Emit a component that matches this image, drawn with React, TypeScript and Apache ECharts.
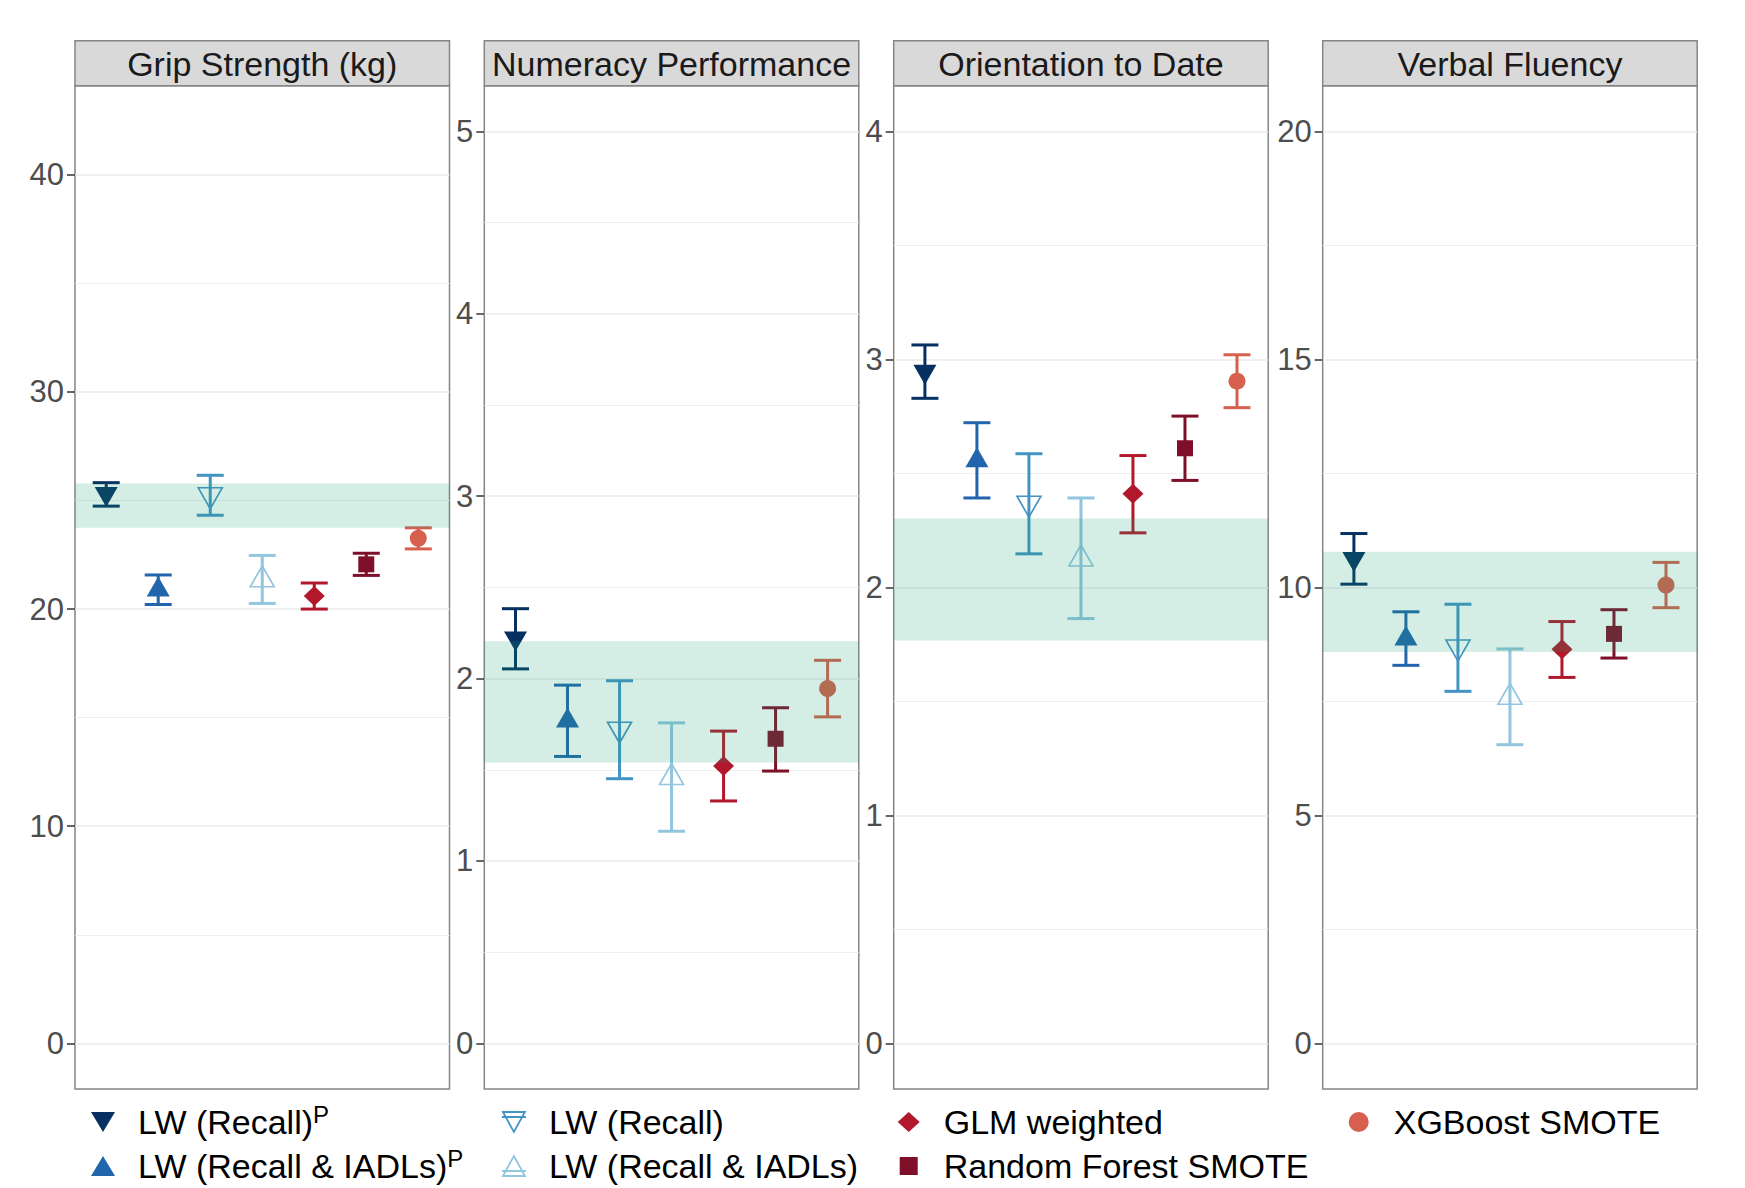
import React, { useEffect, useRef } from "react";
import * as echarts from "echarts";

// ---------- data ----------
const panelTitles = ["Grip Strength (kg)", "Numeracy Performance", "Orientation to Date", "Verbal Fluency"];
const methods = [
  "LW (Recall)^P",
  "LW (Recall & IADLs)^P",
  "LW (Recall)",
  "LW (Recall & IADLs)",
  "GLM weighted",
  "Random Forest SMOTE",
  "XGBoost SMOTE",
];

const gripEst = [25.3, 20.9, 25.24, 21.37, 20.6, 22.06, 23.26];
const gripLow = [24.74, 20.21, 24.32, 20.26, 20.0, 21.55, 22.77];
const gripHigh = [25.82, 21.57, 26.16, 22.47, 21.2, 22.57, 23.74];
const gripBand = [23.74, 25.78];
const gripRange = [-2.1, 44.1];
const gripTicks = [0, 10, 20, 30, 40];
const gripMinor = [5, 15, 25, 35];

const numEst = [2.22, 1.77, 1.72, 1.46, 1.52, 1.67, 1.945];
const numLow = [2.053, 1.573, 1.451, 1.163, 1.329, 1.493, 1.79];
const numHigh = [2.383, 1.964, 1.988, 1.757, 1.712, 1.84, 2.1];
const numBand = [1.54, 2.205];
const numRange = [-0.25, 5.25];
const numTicks = [0, 1, 2, 3, 4, 5];
const numMinor = [0.5, 1.5, 2.5, 3.5, 4.5];

const oriEst = [2.946, 2.557, 2.367, 2.127, 2.41, 2.61, 2.904];
const oriLow = [2.829, 2.392, 2.147, 1.863, 2.239, 2.469, 2.788];
const oriHigh = [3.063, 2.722, 2.586, 2.392, 2.578, 2.751, 3.02];
const oriBand = [1.767, 2.302];
const oriRange = [-0.2, 4.2];
const oriTicks = [0, 1, 2, 3, 4];
const oriMinor = [0.5, 1.5, 2.5, 3.5];

const verEst = [10.62, 8.88, 8.68, 7.6, 8.64, 8.98, 10.05];
const verLow = [10.07, 8.29, 7.72, 6.55, 8.025, 8.45, 9.554];
const verHigh = [11.18, 9.464, 9.63, 8.65, 9.25, 9.51, 10.547];
const verBand = [8.58, 10.78];
const verRange = [-1, 21];
const verTicks = [0, 5, 10, 15, 20];
const verMinor = [2.5, 7.5, 12.5, 17.5];

// ---------- styles ----------
const FONT = "'Liberation Sans', Arial, Helvetica, sans-serif";
const methodColors = ["#053061", "#2166AC", "#4393C3", "#92C5DE", "#B2182B", "#7F0F28", "#D6604D"];
const DOWN = "path://M0,0L2,0L1,1.732Z";
const markerSymbols = [DOWN, "triangle", DOWN, "triangle", "diamond", "rect", "circle"];
const markerSizes: any[] = [[23, 20], [23, 20], [24, 21], [24, 21], [21, 20], 16, 17];
const markerOffsets = [[0, 3], [0, -3], [0, 3], [0, -3], [0, 0], [0, 0], [0, 0]];
const hollow = [false, false, true, true, false, false, false];
const legendIcons = [
  "path://M0,0M24,22M0,1L24,1L12,21Z",
  "path://M0,0M24,22M12,1L24,21L0,21Z",
  "path://M0,0M24,22M1,1L23,1L12,21ZM0,6L24,6",
  "path://M0,0M24,22M12,1L23,21L1,21ZM0,16L24,16",
  "path://M0,0M24,22M12,1L23,11L12,21L1,11Z",
  "path://M0,0M24,22M3,2L21,2L21,20L3,20Z",
  "path://M0,0M24,22M2,11A10,10,0,1,1,22,11A10,10,0,1,1,2,11Z",
];
// legend slot (column, row) of each method
const legendCol = [0, 0, 1, 1, 2, 2, 3];
const legendRow = [0, 1, 0, 1, 0, 1, 0];
const legendIconCenters = [103, 513, 908.7, 1358.7];
const legendRowTops = [1102, 1146];

const gridLeft = [75, 484.3, 893.7, 1322.7];
const gridW = 374.5;
const gridTop = 85.7;
const gridH = 1003.3;
const stripTop = 40.7;
const BAND = "rgba(27,158,119,0.19)";

function buildOption() {
  const panels = [
    { est: gripEst, lo: gripLow, hi: gripHigh, band: gripBand, range: gripRange, ticks: gripTicks, minor: gripMinor },
    { est: numEst, lo: numLow, hi: numHigh, band: numBand, range: numRange, ticks: numTicks, minor: numMinor },
    { est: oriEst, lo: oriLow, hi: oriHigh, band: oriBand, range: oriRange, ticks: oriTicks, minor: oriMinor },
    { est: verEst, lo: verLow, hi: verHigh, band: verBand, range: verRange, ticks: verTicks, minor: verMinor },
  ];

  const grid: any[] = [];
  const xAxis: any[] = [];
  const yAxis: any[] = [];
  const series: any[] = [];
  const graphic: any[] = [];

  panels.forEach((p, gi) => {
    grid.push({
      left: gridLeft[gi],
      top: gridTop,
      width: gridW,
      height: gridH,
      show: true,
      backgroundColor: "#FFFFFF",
      borderColor: "#858585",
      borderWidth: 1.5,
      containLabel: false,
    });
    xAxis.push({ type: "value", gridIndex: gi, min: 0.4, max: 7.6, show: false });
    yAxis.push({
      type: "value",
      gridIndex: gi,
      min: p.range[0],
      max: p.range[1],
      position: "left",
      axisLine: { show: false },
      axisTick: { show: true, length: 8, customValues: p.ticks, lineStyle: { color: "#333333", width: 1.5 } },
      axisLabel: { show: true, customValues: p.ticks, color: "#4D4D4D", fontSize: 31, fontFamily: FONT, margin: 11 },
      splitLine: { show: true, lineStyle: { color: "#EBEBEB", width: 1.6 } },
    });
    yAxis.push({
      type: "value",
      gridIndex: gi,
      min: p.range[0],
      max: p.range[1],
      position: "right",
      axisLine: { show: false },
      axisTick: { show: false, customValues: p.minor },
      axisLabel: { show: false },
      splitLine: { show: true, lineStyle: { color: "#EFEFEF", width: 1 } },
    });

    // error bars
    series.push({
      type: "custom",
      name: "errorbars-" + gi,
      xAxisIndex: gi,
      yAxisIndex: gi * 2,
      z: 2,
      silent: true,
      encode: { x: 0, y: [1, 2] },
      data: methods.map((_, i) => [i + 1, p.lo[i], p.hi[i]]),
      renderItem: (params: any, api: any) => {
        const x = api.value(0);
        const top = api.coord([x, api.value(2)]);
        const bot = api.coord([x, api.value(1)]);
        const c = methodColors[params.dataIndex];
        const hw = 13.5;
        const st = { stroke: c, lineWidth: 3, fill: null };
        return {
          type: "group",
          children: [
            { type: "line", shape: { x1: top[0], y1: top[1], x2: bot[0], y2: bot[1] }, style: st },
            { type: "line", shape: { x1: top[0] - hw, y1: top[1], x2: top[0] + hw, y2: top[1] }, style: st },
            { type: "line", shape: { x1: bot[0] - hw, y1: bot[1], x2: bot[0] + hw, y2: bot[1] }, style: st },
          ],
        };
      },
    });

    // points
    methods.forEach((m, i) => {
      series.push({
        type: "scatter",
        name: m,
        xAxisIndex: gi,
        yAxisIndex: gi * 2,
        z: 3,
        silent: true,
        data: [[i + 1, p.est[i]]],
        symbol: markerSymbols[i],
        symbolSize: markerSizes[i],
        symbolOffset: markerOffsets[i],
        itemStyle: hollow[i]
          ? { color: "rgba(255,255,255,0)", borderColor: methodColors[i], borderWidth: 1.6, opacity: 1 }
          : { color: methodColors[i], borderWidth: 0, opacity: 1 },
      });
    });

    // reference band (drawn on top, semi-transparent)
    series.push({
      type: "custom",
      name: "band-" + gi,
      xAxisIndex: gi,
      yAxisIndex: gi * 2,
      z: 5,
      silent: true,
      encode: { x: 0, y: [1, 2] },
      data: [[1, p.band[0], p.band[1]]],
      renderItem: (params: any, api: any) => {
        const cs = params.coordSys;
        const yHi = api.coord([1, api.value(2)])[1];
        const yLo = api.coord([1, api.value(1)])[1];
        return {
          type: "rect",
          shape: { x: cs.x, y: yHi, width: cs.width, height: yLo - yHi },
          style: { fill: BAND },
        };
      },
    });

    // strip
    graphic.push({
      type: "rect",
      shape: { x: gridLeft[gi], y: stripTop, width: gridW, height: gridTop - stripTop },
      style: { fill: "#D9D9D9", stroke: "#858585", lineWidth: 1.5 },
      z: 10,
      silent: true,
    });
    graphic.push({
      type: "text",
      x: gridLeft[gi] + gridW / 2,
      y: (stripTop + gridTop) / 2 + 0.5,
      style: {
        text: panelTitles[gi],
        fill: "#1A1A1A",
        fontSize: 34,
        fontFamily: FONT,
        align: "center",
        verticalAlign: "middle",
      },
      z: 11,
      silent: true,
    });
  });

  // one legend component per legend slot (4 columns x 2 rows, filled by column)
  const legend = methods.map((m, i) => ({
    orient: "horizontal",
    left: legendIconCenters[legendCol[i]] - 12,
    top: legendRowTops[legendRow[i]],
    padding: 0,
    itemGap: 10,
    itemWidth: 24,
    itemHeight: 22,
    selectedMode: false,
    data: [
      {
        name: m,
        icon: legendIcons[i],
        itemStyle: hollow[i]
          ? { color: "rgba(255,255,255,0)", borderColor: methodColors[i], borderWidth: 1.8 }
          : { color: methodColors[i], borderWidth: 0 },
      },
    ],
    formatter: (name: string) =>
      name.endsWith("^P") ? `{m|${name.slice(0, -2)}}{s|P}` : `{m|${name}}`,
    textStyle: {
      color: "#000000",
      fontSize: 34,
      fontFamily: FONT,
      lineHeight: 40,
      rich: {
        m: { color: "#000000", fontSize: 34, fontFamily: FONT, lineHeight: 40, padding: [0, 0, 0, 18] },
        s: { color: "#000000", fontSize: 24, fontFamily: FONT, lineHeight: 16, verticalAlign: "top" },
      },
    },
  }));

  return {
    animation: false,
    backgroundColor: "#FFFFFF",
    textStyle: { fontFamily: FONT },
    tooltip: { show: false },
    grid,
    xAxis,
    yAxis,
    series,
    legend,
    graphic,
  };
}

export default function App() {
  const ref = useRef<HTMLDivElement>(null);
  useEffect(() => {
    document.body.style.margin = "0";
    const chart = echarts.init(ref.current as HTMLDivElement, null, { renderer: "svg" });
    chart.setOption(buildOption() as any);
    return () => chart.dispose();
  }, []);
  return <div ref={ref} style={{ width: 1745, height: 1188 }} />;
}
